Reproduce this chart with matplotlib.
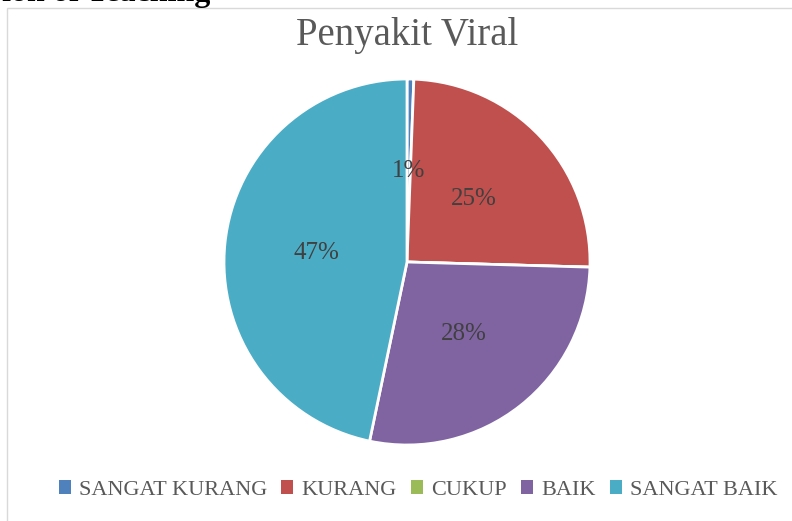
import matplotlib
matplotlib.use("Agg")
import matplotlib.pyplot as plt
from matplotlib.patches import Rectangle, Patch

categories = ["SANGAT KURANG", "KURANG", "CUKUP", "BAIK", "SANGAT BAIK"]
values = [0.6, 25.0, 0.0, 28.0, 47.0]
colors = ["#4F81BD", "#C0504D", "#9BBB59", "#8064A2", "#4BACC6"]
title = "Penyakit Viral"

W, H = 792, 521
fig = plt.figure(figsize=(W / 100, H / 100), dpi=100)
serif = ["Liberation Serif", "DejaVu Serif"]

# chart area border (cut off at right and bottom)
fig.add_artist(Rectangle((7 / W, -0.05), 1.0, 1 - 8 / H + 0.05,
                         transform=fig.transFigure, fill=False,
                         edgecolor="#d9d9d9", lw=1.0))

# leftover heading from the page above, mostly cut off
fig.text(210 / W, 1 - 1 / H, "ion of Teaching", family=serif, fontsize=23,
         fontweight="bold", color="black", ha="right", va="baseline")

fig.text(407 / W, 1 - 45 / H, title, family=serif, fontsize=28,
         color="#595959", ha="center", va="baseline")

# pie
cx, cy, r = 407, 262, 183
ax = fig.add_axes([(cx - r) / W, (H - cy - r) / H, 2 * r / W, 2 * r / H])


def fmt(p):
    return "" if p < 0.05 else "%.0f%%" % p


wedges, texts, autotexts = ax.pie(
    values, colors=colors, startangle=90, counterclock=False, radius=1,
    autopct=fmt, pctdistance=0.5,
    wedgeprops=dict(edgecolor="white", linewidth=2),
    textprops=dict(family=serif, fontsize=18, color="#404040"))
ax.set_xlim(-1, 1)
ax.set_ylim(-1, 1)
ax.set_aspect("equal")
ax.axis("off")

handles = [Patch(facecolor=c, edgecolor="none") for c in colors]
fig.legend(handles, categories, loc="center", bbox_to_anchor=(418 / W, 1 - 490 / H),
           ncol=5, frameon=False, prop=dict(family=serif, size=16),
           labelcolor="#595959", handlelength=0.55, handleheight=0.55,
           handletextpad=0.35, columnspacing=0.65)

fig.savefig("out.png", dpi=100)
